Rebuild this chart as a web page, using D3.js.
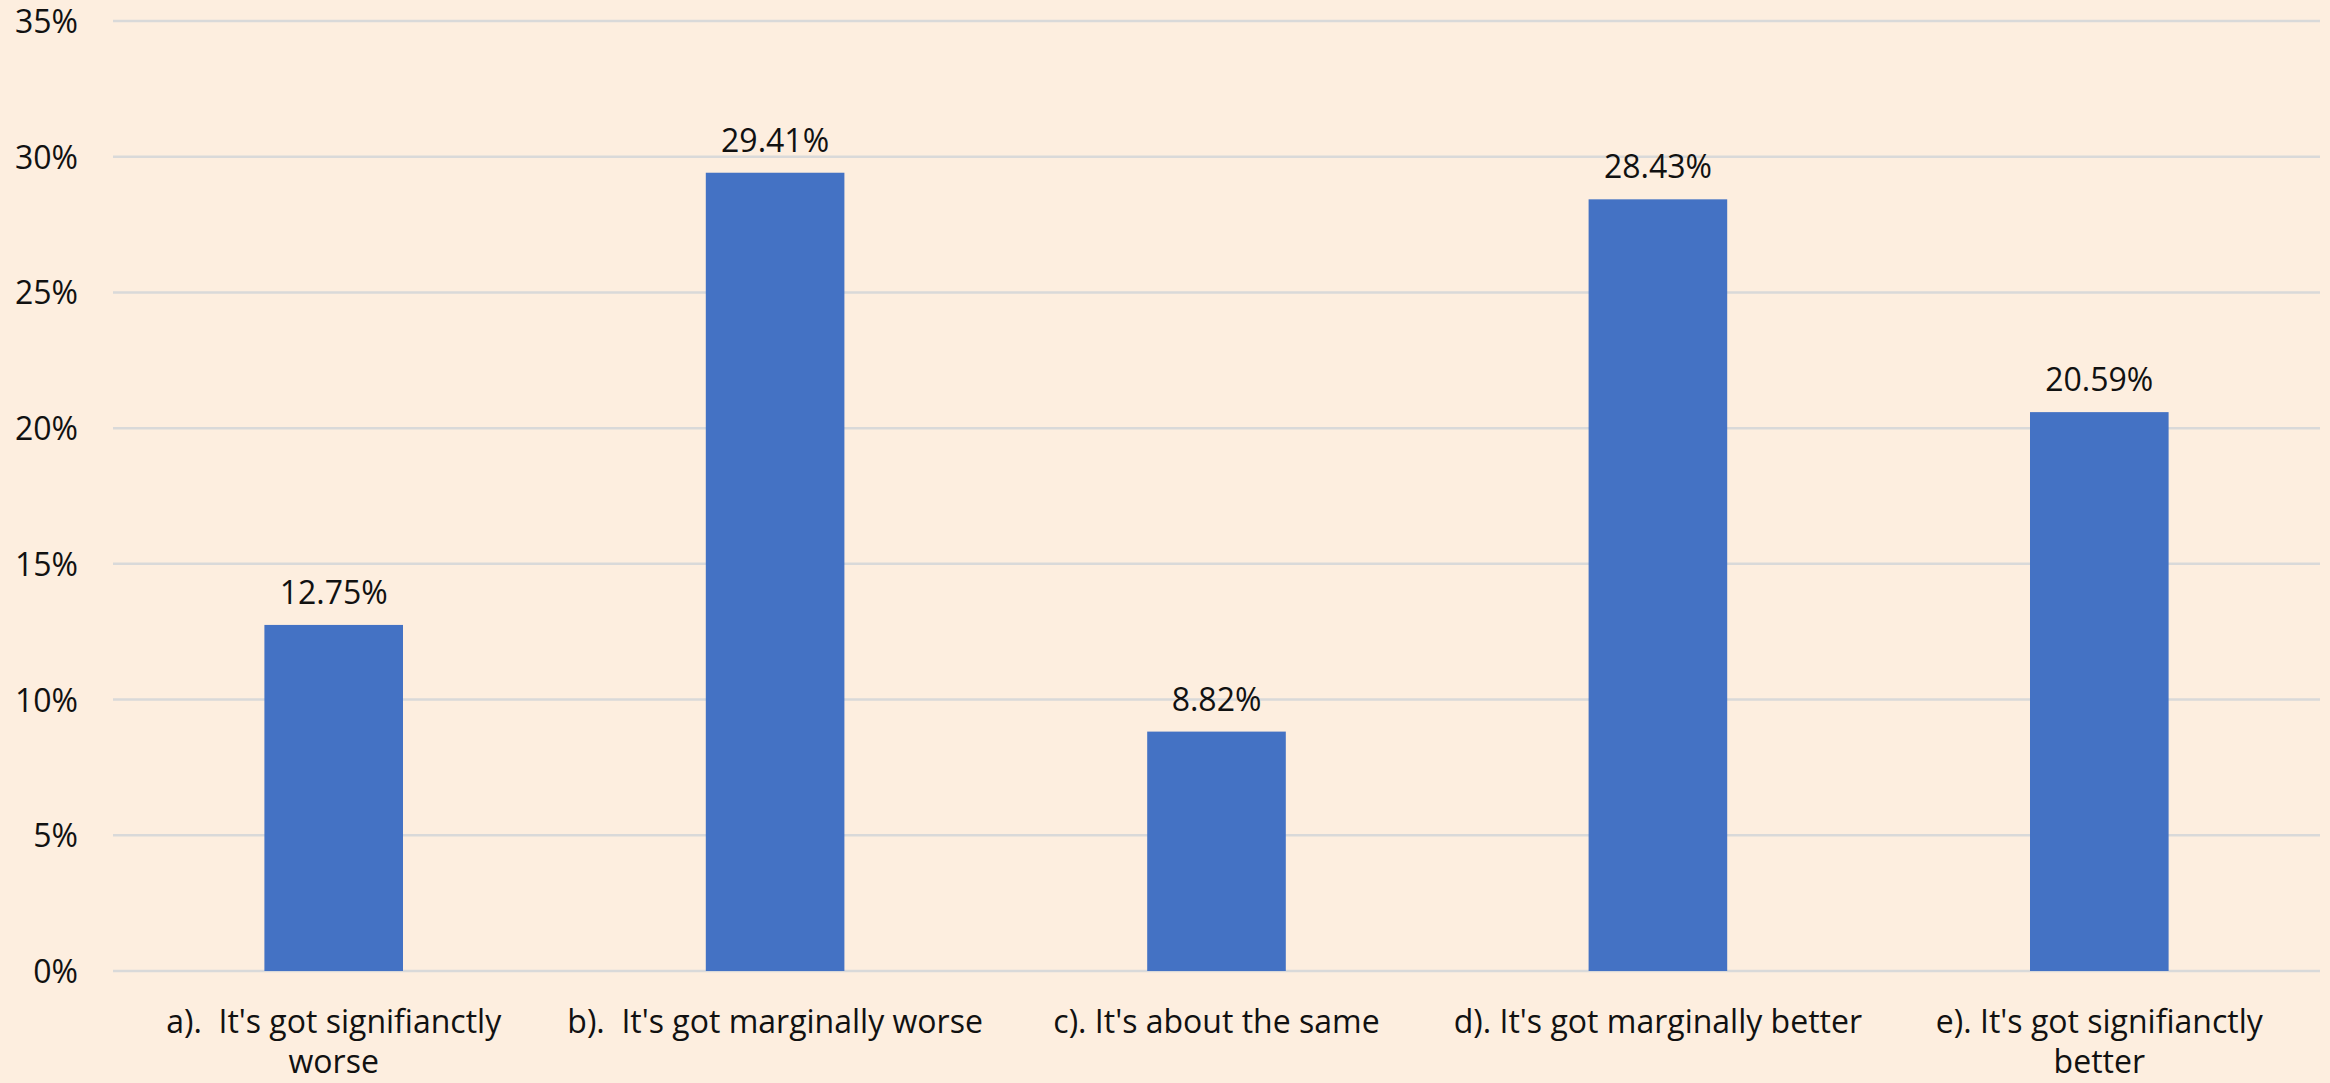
<!DOCTYPE html>
<html>
<head>
<meta charset="utf-8">
<script src="https://cdn.jsdelivr.net/npm/d3@7"></script>
<style>
  html, body { margin: 0; padding: 0; background: #FDEEDF; }
  svg { display: block; }
  text { font-family: "Open Sans", "Noto Sans", sans-serif; fill: #111; }
</style>
</head>
<body>
<svg id="chart" width="2330" height="1083"></svg>
<script>
// Survey responses: share of respondents per answer
const categories = [
  "a).  It's got signifianctly\nworse",
  "b).  It's got marginally worse",
  "c). It's about the same",
  "d). It's got marginally better",
  "e). It's got signifianctly\nbetter"
];
const values = [12.75, 29.41, 8.82, 28.43, 20.59];
const yTicks = [0, 5, 10, 15, 20, 25, 30, 35];

const W = 2330, H = 1083;
const plot = { left: 113, right: 2320, top: 21, bottom: 971 };

const svg = d3.select("#chart");
svg.append("rect").attr("width", W).attr("height", H).attr("fill", "#FDEEDF");

const x = d3.scaleBand()
  .domain(categories)
  .range([plot.left, plot.right])
  .padding(0);

const y = d3.scaleLinear()
  .domain([0, 35])
  .range([plot.bottom, plot.top]);

const barW = x.bandwidth() * 0.314;

// Horizontal gridlines
svg.append("g")
  .selectAll("line")
  .data(yTicks)
  .join("line")
  .attr("x1", plot.left)
  .attr("x2", plot.right)
  .attr("y1", d => y(d))
  .attr("y2", d => y(d))
  .attr("stroke", "#D9D9D9")
  .attr("stroke-width", 2.5);

// Y axis labels
const yAxis = d3.axisLeft(y)
  .tickValues(yTicks)
  .tickFormat(d => d + "%")
  .tickSize(0)
  .tickPadding(0);
const yG = svg.append("g")
  .attr("transform", `translate(78,0)`)
  .call(yAxis);
yG.select(".domain").remove();
yG.selectAll("text")
  .attr("font-family", "'Open Sans', 'Noto Sans', sans-serif")
  .attr("font-size", 32)
  .attr("fill", "#111")
  .attr("dy", "0.36em");

// Bars
svg.append("g")
  .selectAll("rect")
  .data(values)
  .join("rect")
  .attr("x", (d, i) => x(categories[i]) + x.bandwidth() / 2 - barW / 2)
  .attr("width", barW)
  .attr("y", d => y(d))
  .attr("height", d => y(0) - y(d))
  .attr("fill", "#4472C4");

// Value labels above bars
svg.append("g")
  .selectAll("text")
  .data(values)
  .join("text")
  .attr("x", (d, i) => x(categories[i]) + x.bandwidth() / 2)
  .attr("y", d => y(d) - 21)
  .attr("text-anchor", "middle")
  .attr("font-size", 32)
  .text(d => d.toFixed(2) + "%");

// Category labels (may span two lines)
const cat = svg.append("g")
  .selectAll("text")
  .data(categories)
  .join("text")
  .attr("x", d => x(d) + x.bandwidth() / 2)
  .attr("y", 1033)
  .attr("text-anchor", "middle")
  .attr("font-size", 32)
  .style("white-space", "pre");
cat.each(function(d) {
  const t = d3.select(this);
  d.split("\n").forEach((line, k) => {
    t.append("tspan")
      .attr("x", x(d) + x.bandwidth() / 2)
      .attr("dy", k === 0 ? 0 : 40)
      .text(line);
  });
});
</script>
</body>
</html>
